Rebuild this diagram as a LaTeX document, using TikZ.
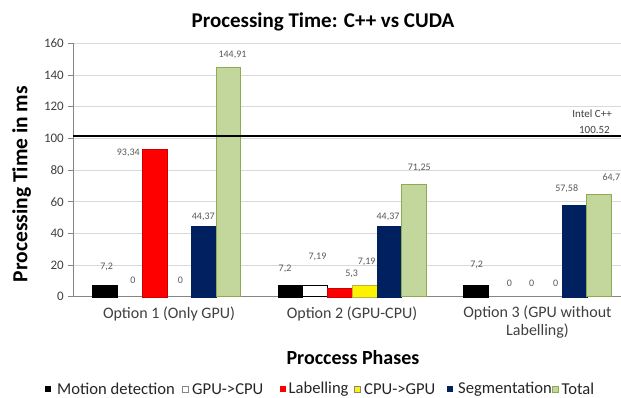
\documentclass[tikz,border=0pt]{standalone}
\usepackage{fontspec}
\setmainfont{Carlito}
\definecolor{navybar}{HTML}{002060}
\definecolor{greenbar}{HTML}{C3D69B}
\definecolor{greenedge}{HTML}{8EAA52}
\definecolor{gridgray}{HTML}{D9D9D9}
\definecolor{axisgray}{HTML}{868686}
\definecolor{textgray}{HTML}{404040}
\definecolor{labelgray}{HTML}{595959}
% bar number #2 (0..5) of group #1 (0..2), height #3, style #4
\newcommand\chartbar[4]{%
  \path[#4] ({92.6+185.35*#1+24.7*#2},296.7) rectangle
            ({92.6+185.35*#1+24.7*(#2+1)},{296.7-1.583*#3});}
\tikzset{
  gridline/.style={draw=gridgray, line width=0.8pt},
  axisline/.style={draw=axisgray, line width=0.9pt},
  ticklabel/.style={text=textgray, font=\fontsize{13}{14}\selectfont, anchor=east, inner sep=0pt},
  vallabel/.style={text=labelgray, font=\fontsize{10}{11}\selectfont, inner sep=0pt},
  catlabel/.style={text=textgray, font=\fontsize{16}{18}\selectfont, inner sep=0pt, align=center},
  legtext/.style={text=black!85, font=\fontsize{16.6}{18}\selectfont, anchor=west, inner sep=0pt},
  legbox/.style={line width=0.5pt},
  motionbar/.style={fill=black, draw=black},
  gpucpubar/.style={fill=white, draw=black, line width=0.7pt},
  labelbar/.style={fill=red, draw=red!80!black, line width=0.4pt},
  cpugpubar/.style={fill=yellow, draw=yellow!70!black, line width=0.4pt},
  segbar/.style={fill=navybar, draw=navybar},
  totalbar/.style={fill=greenbar, draw=greenedge, line width=0.8pt},
}
\begin{document}
\begin{tikzpicture}[x=1pt,y=-1pt]
\useasboundingbox (0,0) rectangle (621,398);
\fill[white] (0,0) rectangle (621,398);

% title
\node[font=\bfseries\fontsize{21}{23}\selectfont, inner sep=0pt] (title) at (323,22) {Processing Time: C++ vs CUDA};

% gridlines and value axis
\foreach \v in {20,40,...,160}
  \draw[gridline] (73,{296.7-1.583*\v}) -- (621,{296.7-1.583*\v});
\draw[axisline] (73,{296.7-1.583*160}) -- (73,296.7) -- (621,296.7);
\foreach \v in {0,20,...,160}{
  \draw[axisline] (68,{296.7-1.583*\v}) -- (73,{296.7-1.583*\v});
  \node[ticklabel] (tick\v) at (64,{296.7-1.583*\v}) {\v};
}

% axis titles
\node[font=\bfseries\fontsize{21.5}{23}\selectfont, rotate=90, inner sep=0pt] (ytitle) at (21.7,184) {Processing Time in ms};
\node[font=\bfseries\fontsize{20}{22}\selectfont, inner sep=0pt] (xtitle) at (353,358) {Proccess Phases};

% bars
\chartbar{0}{0}{7.2}{motionbar}
\chartbar{0}{2}{93.34}{labelbar}
\chartbar{0}{4}{44.37}{segbar}
\chartbar{0}{5}{144.91}{totalbar}
\chartbar{1}{0}{7.2}{motionbar}
\chartbar{1}{1}{7.19}{gpucpubar}
\chartbar{1}{2}{5.3}{labelbar}
\chartbar{1}{3}{7.19}{cpugpubar}
\chartbar{1}{4}{44.37}{segbar}
\chartbar{1}{5}{71.25}{totalbar}
\chartbar{2}{0}{7.2}{motionbar}
\chartbar{2}{4}{57.58}{segbar}
\chartbar{2}{5}{64.75}{totalbar}

% reference line for the C++ implementation
\draw[black, line width=1.6pt] (73,136) -- (621,136);
\node[text=textgray, font=\fontsize{11}{12}\selectfont, anchor=east, inner sep=0pt] (intel) at (612,114) {Intel C++};
\node[text=textgray, font=\fontsize{11}{12}\selectfont, anchor=east, inner sep=0pt] (intelval) at (610,129.5) {100.52};

% data labels
\node[vallabel] (v11) at (106.7,266.7) {7,2};
\node[vallabel] (v12) at (133,280) {0};
\node[vallabel] (v13) at (128.3,153.3) {93,34};
\node[vallabel] (v14) at (180.3,280) {0};
\node[vallabel] (v15) at (203.3,216.7) {44,37};
\node[vallabel] (v16) at (232.5,55) {144,91};
\node[vallabel] (v21) at (285,269) {7,2};
\node[vallabel] (v22) at (317.5,256.7) {7,19};
\node[vallabel] (v23) at (351.7,274) {5,3};
\node[vallabel] (v24) at (366.7,261.7) {7,19};
\node[vallabel] (v25) at (388,216.7) {44,37};
\node[vallabel] (v26) at (419.3,167.7) {71,25};
\node[vallabel] (v31) at (476.7,265) {7,2};
\node[vallabel] (v32) at (509.3,283.3) {0};
\node[vallabel] (v33) at (531.7,283.3) {0};
\node[vallabel] (v34) at (555.7,283.3) {0};
\node[vallabel] (v35) at (566.7,188.3) {57,58};
\node[vallabel, anchor=east] (v36) at (620.5,177.3) {64,7};

% category labels
\node[catlabel] (cat1) at (169,314) {Option 1 (Only GPU)};
\node[catlabel] (cat2) at (352,314) {Option 2 (GPU-CPU)};
\node[catlabel, anchor=north] (cat3) at (537.5,306) {Option 3 (GPU without\\Labelling)};

% legend
\fill[black] (45,386) rectangle (51,392);
\node[legtext] (leg1) at (57,389) {Motion detection};
\draw[legbox, draw=axisgray, fill=white] (182.5,386) rectangle (188.5,392);
\node[legtext] (leg2) at (192,389) {GPU->CPU};
\fill[red] (279.5,386) rectangle (285.5,392);
\node[legtext] (leg3) at (288.5,389) {Labelling};
\draw[legbox, draw=axisgray, fill=yellow] (354.5,386) rectangle (360.5,392);
\node[legtext] (leg4) at (364,389) {CPU->GPU};
\fill[navybar] (446.5,386) rectangle (452.5,392);
\node[legtext] (leg5) at (458,389) {Segmentation};
\draw[legbox, draw=greenedge, fill=greenbar] (552.5,386) rectangle (558.5,392);
\node[legtext] (leg6) at (561.5,389) {Total};
\end{tikzpicture}
\end{document}
